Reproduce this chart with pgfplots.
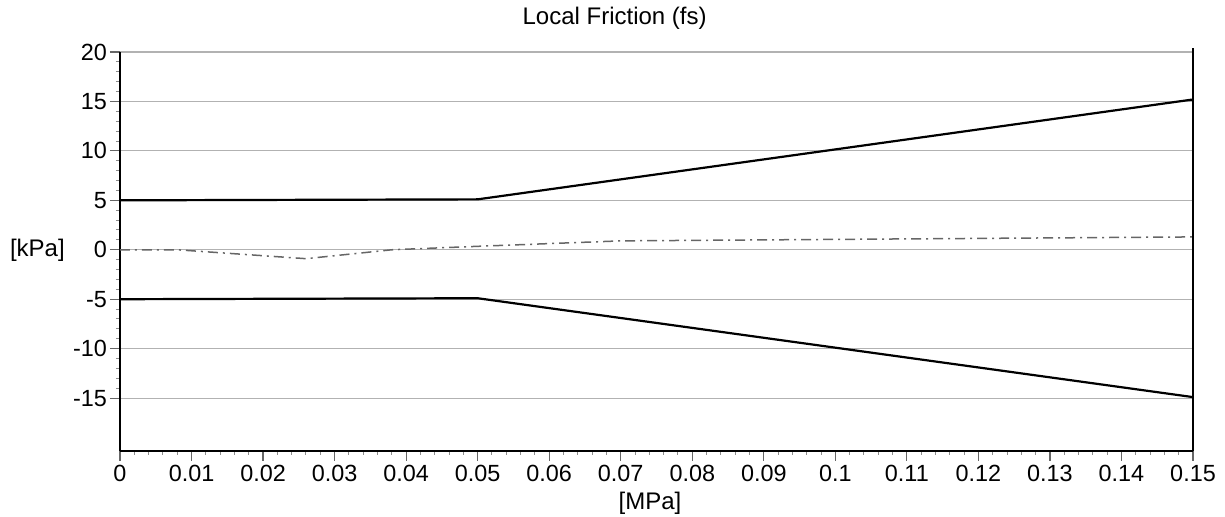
\documentclass[border=0pt]{standalone}
\usepackage{pgfplots}
\pgfplotsset{compat=1.18}
\usepackage{fontspec}
\setmainfont{Liberation Sans}
\begin{document}
\begin{tikzpicture}
\path[use as bounding box] (-60pt,-33pt) rectangle (552.5pt,225.25pt);
\begin{axis}[
  scale only axis,
  width=536.5pt, height=199.25pt,
  xmin=0, xmax=0.15, ymin=-20.3, ymax=20,
  axis x line*=bottom, axis y line*=left,
  axis line style={line width=1pt, black, -},
  xtick={0,0.01,0.02,0.03,0.04,0.05,0.06,0.07,0.08,0.09,0.1,0.11,0.12,0.13,0.14,0.15},
  xticklabels={0,0.01,0.02,0.03,0.04,0.05,0.06,0.07,0.08,0.09,0.1,0.11,0.12,0.13,0.14,0.15},
  ytick={-15,-10,-5,0,5,10,15,20},
  yticklabels={-15,-10,-5,0,5,10,15,20},
  minor x tick num=4, minor y tick num=4,
  tick align=outside,
  major tick length=5pt, minor tick length=2pt,
  every tick/.style={black!60, line width=0.6pt},
  minor tick style={black!45, line width=0.5pt},
  ymajorgrids,
  major grid style={black!30, line width=0.6pt},
  /pgf/number format/assume math mode=true,
  tick label style={font=\fontsize{11.7}{14}\selectfont},
  xticklabel style={yshift=1pt},
  yticklabel style={xshift=2pt},
  title={Local Friction (fs)},
  title style={at={(axis description cs:0.461,1)}, yshift=11pt, anchor=center, font=\fontsize{12}{14}\selectfont},
  xlabel={[MPa]},
  xlabel style={at={(axis description cs:0.494,0)}, yshift=-26.5pt, anchor=center, font=\fontsize{12}{14}\selectfont},
  ylabel={[kPa]},
  every axis y label/.style={at={(axis description cs:-0.077,0.502)}, anchor=center, font=\fontsize{12}{14}\selectfont},
  clip=false,
]
\addplot[black, line width=1.1pt] coordinates {(0,5.0) (0.05,5.1) (0.15,15.2)};
\addplot[black, line width=1.1pt] coordinates {(0,-5.0) (0.05,-4.9) (0.15,-14.9)};
\addplot[black!60, line width=0.75pt, dash pattern=on 5pt off 2.5pt on 1pt off 2.5pt]
  coordinates {(0,0) (0.008,0) (0.018,-0.5) (0.026,-0.9) (0.038,0) (0.05,0.35) (0.07,0.9) (0.10,1.05) (0.15,1.3)};
\draw[black, line width=1pt] (rel axis cs:1,0) -- (rel axis cs:1,1.01);
\end{axis}
\end{tikzpicture}
\end{document}
